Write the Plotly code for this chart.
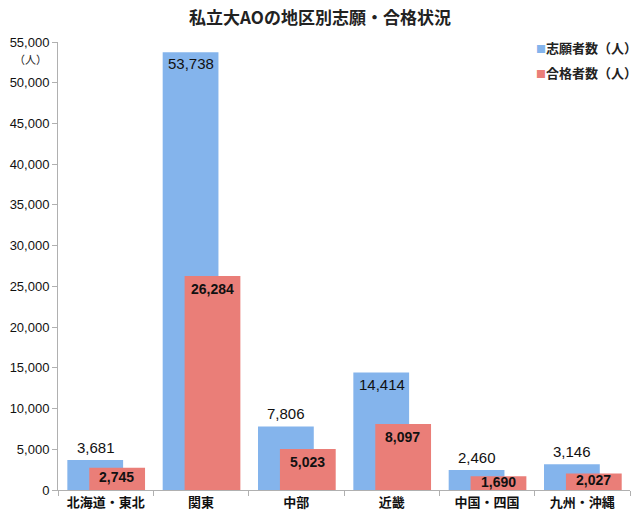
import plotly.graph_objects as go

categories = ["北海道・東北", "関東", "中部", "近畿", "中国・四国", "九州・沖縄"]
applicants = [3681, 53738, 7806, 14414, 2460, 3146]
passers = [2745, 26284, 5023, 8097, 1690, 2027]
series_names = ["志願者数（人）", "合格者数（人）"]
series_colors = ["#84b4ec", "#ea7e78"]
y_ticks = list(range(0, 55001, 5000))

JP = "Noto Sans CJK JP"
NUM = "Liberation Sans, Arial"

fig = go.Figure()
fig.add_trace(go.Bar(
    x=categories, y=applicants, name=series_names[0],
    marker=dict(color=series_colors[0], line=dict(width=0)),
    width=0.585, offset=-0.402,
))
fig.add_trace(go.Bar(
    x=categories, y=passers, name=series_names[1],
    marker=dict(color=series_colors[1], line=dict(width=0)),
    width=0.585, offset=-0.172,
))

annotations = []
for c, v in zip(categories, applicants):
    if v > 10000:
        annotations.append(dict(x=c, y=v, yanchor="top", yshift=-1, xshift=-10,
                                text=f"{v:,}", showarrow=False,
                                font=dict(family=NUM, size=15, color="#111")))
    else:
        annotations.append(dict(x=c, y=v, yanchor="bottom", yshift=2, xshift=-10,
                                text=f"{v:,}", showarrow=False,
                                font=dict(family=NUM, size=15, color="#111")))
for c, v in zip(categories, passers):
    annotations.append(dict(x=c, y=v - min(1600, v * 0.4), yanchor="middle", xshift=11,
                            text=f"<b>{v:,}</b>", showarrow=False,
                            font=dict(family=NUM, size=14, color="#111")))
annotations.append(dict(xref="paper", yref="paper", x=-0.016, y=0.985, xanchor="right", yanchor="top",
                        text="（人）", showarrow=False, font=dict(family=JP, size=11, color="#222")))
# legend drawn as text
for i, (name, col) in enumerate(zip(series_names, series_colors)):
    annotations.append(dict(xref="paper", yref="paper", x=0.833, y=0.988 - i * 0.056,
                            xanchor="left", yanchor="middle", showarrow=False,
                            text=f"<span style='color:{col}; font-size:10px'>■</span><b>{name}</b>",
                            font=dict(family=JP, size=13, color="#222")))

fig.update_layout(
    width=640, height=522,
    margin=dict(l=56, r=10, t=42, b=32),
    paper_bgcolor="white", plot_bgcolor="white",
    barmode="overlay",
    title=dict(text="<b>私立大AOの地区別志願・合格状況</b>", x=0.5, xanchor="center",
               y=0.965, yanchor="middle", font=dict(family=JP, size=17, color="#222")),
    annotations=annotations,
    showlegend=False,
)
fig.update_xaxes(
    type="category", showline=True, linecolor="#b0b0b0", linewidth=1,
    ticks="outside", ticklen=5, tickcolor="#b0b0b0", tickson="boundaries",
    showgrid=False, tickfont=dict(family=JP, size=13, color="#111"),
    ticktext=[f"<b>{c}</b>" for c in categories], tickvals=categories,
)
fig.update_yaxes(
    range=[0, 55000], tickvals=y_ticks, ticktext=[f"{t:,}" for t in y_ticks],
    showline=True, linecolor="#b0b0b0", linewidth=1,
    ticks="outside", ticklen=5, tickcolor="#b0b0b0",
    showgrid=False, zeroline=False, tickfont=dict(family=NUM, size=13, color="#111"),
)

fig.write_html("out.html", config={"displayModeBar": False},
               post_script="document.body.style.margin='0';")
